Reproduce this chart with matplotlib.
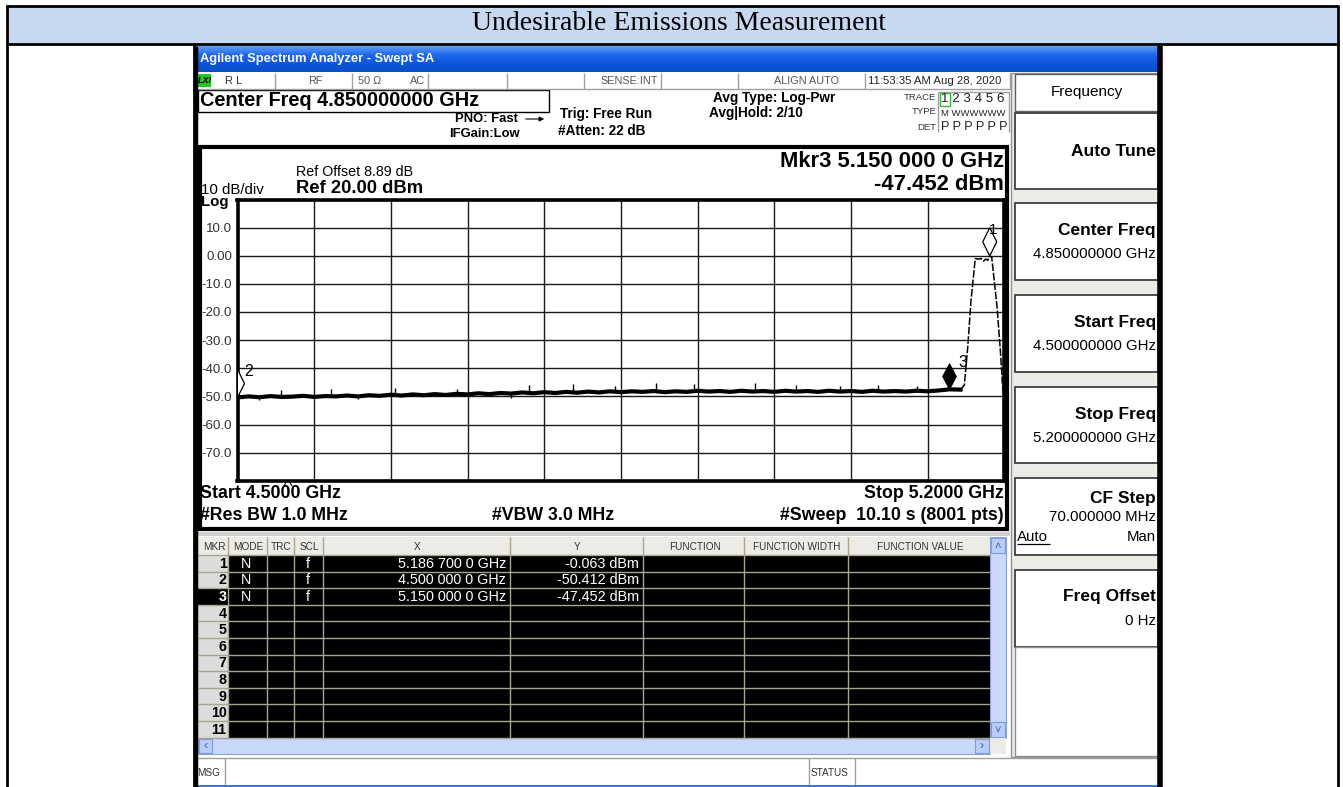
import numpy as np
import matplotlib.pyplot as plt
from matplotlib.patches import Rectangle, Polygon
from matplotlib.colors import LinearSegmentedColormap

W, H = 1343, 787
SANS = "Liberation Sans"
SERIF = "Liberation Serif"
plt.rcParams["font.family"] = SANS

# ---- values --------------------------------------------------------------
start_ghz, stop_ghz = 4.5, 5.2
ytick_vals = [-80, -70, -60, -50, -40, -30, -20, -10, 0, 10, 20]
ytick_text = ["", "-70.0", "-60.0", "-50.0", "-40.0", "-30.0", "-20.0",
              "-10.0", "0.00", "10.0", ""]

# noise floor (GHz, dBm), read every 10 MHz
floor_freq = [4.50, 4.51, 4.52, 4.53, 4.54, 4.55, 4.56, 4.57, 4.58, 4.59,
              4.60, 4.61, 4.62, 4.63, 4.64, 4.65, 4.66, 4.67, 4.68, 4.69,
              4.70, 4.71, 4.72, 4.73, 4.74, 4.75, 4.76, 4.77, 4.78, 4.79,
              4.80, 4.81, 4.82, 4.83, 4.84, 4.85, 4.86, 4.87, 4.88, 4.89,
              4.90, 4.91, 4.92, 4.93, 4.94, 4.95, 4.96, 4.97, 4.98, 4.99,
              5.00, 5.01, 5.02, 5.03, 5.04, 5.05, 5.06, 5.07, 5.08, 5.09,
              5.10, 5.11, 5.12, 5.13, 5.14, 5.15, 5.16]
floor_level = [-50.4, -50.0, -50.3, -49.9, -50.2, -50.1, -49.8, -50.2, -49.9, -50.0,
               -49.7, -50.0, -49.6, -49.8, -49.4, -49.7, -49.3, -49.6, -49.2, -49.5,
               -49.1, -49.3, -48.9, -49.2, -48.8, -49.0, -48.6, -48.9, -48.5, -48.8,
               -48.4, -48.7, -48.3, -48.6, -48.2, -48.5, -48.2, -48.4, -48.1, -48.5,
               -48.2, -48.4, -48.0, -48.3, -48.1, -48.4, -48.0, -48.3, -48.1, -48.4,
               -48.0, -48.3, -48.1, -48.4, -48.0, -48.3, -48.1, -48.4, -48.0, -48.3,
               -48.1, -48.3, -48.0, -48.2, -47.9, -47.5, -47.6]

# emission skirt and plateau
skirt_freq = [5.160, 5.1635, 5.1666, 5.1696, 5.1735, 5.1760, 5.1790, 5.1810,
              5.1830, 5.1850, 5.1867, 5.1885, 5.1934, 5.1964, 5.1985, 5.2000]
skirt_level = [-47.6, -46.0, -32.6, -15.9, -1.0, -1.2, -1.0, -1.9,
               -1.2, -1.6, -0.1, -0.5, -18.3, -33.7, -46.8, -51.5]

# isolated noise spikes
spike_freq = [4.520, 4.540, 4.585, 4.610, 4.644, 4.700, 4.750, 4.766, 4.806,
              4.845, 4.882, 4.917, 4.972, 5.010, 5.050, 5.085, 5.120]
spike_top = [-50.1, -47.8, -47.5, -49.8, -47.0, -47.2, -49.0, -45.8, -45.5,
             -46.3, -45.4, -45.5, -45.1, -46.0, -46.4, -45.9, -46.2]
spike_bot = [-51.3, -50.0, -49.8, -51.0, -49.6, -49.2, -50.4, -48.8, -48.6,
             -48.4, -48.3, -48.3, -48.3, -48.2, -48.3, -48.2, -48.1]

mkr_num = [1, 2, 3]
mkr_freq = [5.1867, 4.5000, 5.1500]
mkr_level = [-0.063, -50.412, -47.452]
mkr_mode = ["N", "N", "N"]
mkr_scl = ["f", "f", "f"]
active_mkr = 3
table_rows = 11

softkey_titles = ["Auto Tune", "Center Freq", "Start Freq", "Stop Freq",
                  "CF Step", "Freq Offset"]
softkey_values = ["", "4.850000000 GHz", "4.500000000 GHz", "5.200000000 GHz",
                  "70.000000 MHz", "0 Hz"]

# ---- canvas in pixel coordinates ------------------------------------------
fig = plt.figure(figsize=(W / 100, H / 100), dpi=100)
ov = fig.add_axes([0, 0, 1, 1])
ov.set_xlim(0, W); ov.set_ylim(H, 0); ov.axis("off")


def box(x0, y0, x1, y1, fc="none", ec="none", lw=1.0, z=1):
    ov.add_patch(Rectangle((x0, y0), x1 - x0, y1 - y0, fc=fc, ec=ec, lw=lw, zorder=z))


def line(xs, ys, c="black", lw=1.0, z=3):
    ov.plot(xs, ys, color=c, lw=lw, zorder=z, solid_capstyle="butt")


def txt(x, y, s, size, ha="left", weight="normal", color="black", family=SANS, z=5, **kw):
    ov.text(x, y, s, fontsize=size, ha=ha, va="center", fontweight=weight,
            color=color, family=family, zorder=z, **kw)


# document table
box(7, 6, 1337, 43, fc="#c6d9f1")
line([6, 1338], [5.5, 5.5], lw=2); line([6, 1338], [43.5, 43.5], lw=2)
line([6.5, 6.5], [5, H], lw=2); line([1337.5, 1337.5], [5, H], lw=2)
line([193.5, 193.5], [43, H], lw=2)
txt(679.5, 23, "Undesirable Emissions Measurement", 20, ha="center", family=SERIF)

# analyzer window
box(195, 46, 1161, H, fc="white")
tb = LinearSegmentedColormap.from_list("tb", ["#5f9ef8", "#2067ec", "#0c57dc", "#0a4ec8"])
ov.imshow(np.linspace(0, 1, 40).reshape(-1, 1), cmap=tb, extent=(195, 1161, 72, 46),
          aspect="auto", zorder=2)
ov.set_xlim(0, W); ov.set_ylim(H, 0)
txt(200, 59, "Agilent Spectrum Analyzer - Swept SA", 9.3, weight="bold", color="white")
line([1160, 1160], [46, H], lw=4, z=6)
line([195.5, 195.5], [46, H], lw=2.5, z=6)

# status row
line([196, 1010], [89, 89], c="#a0a0a0")
for xs in [275, 352, 428, 507, 584, 661, 738, 865, 1010]:
    line([xs, xs], [73, 89], c="#a0a0a0")
box(196.5, 74, 211, 87, fc="#26c626", z=4)
txt(198, 80.5, "LXI", 6.5, weight="bold", style="italic")
txt(225, 81, "R L", 8, color="#333333")
txt(315, 81, "RF", 7.8, ha="center", color="#555555")
txt(358, 81, "50 \u03a9", 7.8, color="#555555")
txt(410, 81, "AC", 7.8, color="#555555")
txt(658, 81, "SENSE:INT", 7.8, ha="right", color="#555555")
txt(806, 81, "ALIGN AUTO", 7.8, ha="center", color="#555555")
txt(868, 81, "11:53:35 AM Aug 28, 2020", 8.2, color="#222222")

# settings header
box(198, 90, 549, 112, ec="black", lw=1)
txt(200, 101, "Center Freq 4.850000000 GHz", 14.3, weight="bold")
txt(455, 119, "PNO: Fast", 9.4, weight="bold")
txt(449, 134, "IFGain:Low", 9.4, weight="bold")
ov.annotate("", xy=(547, 119), xytext=(523, 119),
            arrowprops=dict(arrowstyle="-|>", lw=0.8, color="black", mutation_scale=7))
txt(560, 114, "Trig: Free Run", 9.8, weight="bold")
txt(558, 131, "#Atten: 22 dB", 9.8, weight="bold")
txt(713, 98, "Avg Type: Log-Pwr", 9.8, weight="bold")
txt(709, 113, "Avg|Hold: 2/10", 9.8, weight="bold")
txt(936, 98, "TRACE", 6.8, ha="right", color="#333333")
txt(936, 112, "TYPE", 6.8, ha="right", color="#333333")
txt(936, 127, "DET", 6.8, ha="right", color="#333333")
line([938, 1009, 1009], [92, 92, 132], c="#a0a0a0")
line([938, 938], [92, 132], c="#a0a0a0")
box(939.5, 92.5, 950, 106, ec="#3cb43c", lw=1, z=4)
txt(941, 99.5, "1 2 3 4 5 6", 9.6, color="#222222")
txt(941, 113, "M WWWWWW", 6.8, color="#222222")
txt(941, 127, "P P P P P P", 9.2, color="#222222")

# plot frame
box(200, 147, 1006.5, 528.5, fc="white", ec="black", lw=3, z=2)
box(197, 532, 1010, 536, fc="#d0d0d0")
txt(296, 171.5, "Ref Offset 8.89 dB", 10.3)
txt(296, 188.5, "Ref 20.00 dBm", 13.2, weight="bold")
txt(201, 190.5, "10 dB/div", 10.8)
txt(201, 202, "Log", 10.8, weight="bold")
txt(1004, 161.5, "Mkr3 5.150 000 0 GHz", 15.8, ha="right", weight="bold")
txt(1004, 185, "-47.452 dBm", 15.8, ha="right", weight="bold")
txt(200, 494, "Start 4.5000 GHz", 12.8, weight="bold")
txt(1004, 494, "Stop 5.2000 GHz", 12.8, ha="right", weight="bold")
txt(200, 515, "#Res BW 1.0 MHz", 12.8, weight="bold")
txt(492, 515, "#VBW 3.0 MHz", 12.8, weight="bold")
txt(1004, 515, "#Sweep  10.10 s (8001 pts)", 12.8, ha="right", weight="bold")
line([284, 288, 292], [486, 479, 486], lw=0.8, z=7)

# marker table
col_x = [198, 228, 267, 294, 323, 510, 643, 744, 848, 990]
row_h = 16.6
body_top = 555
body_bot = body_top + table_rows * row_h
box(198, 537, 990, body_top, fc="#ecebe6")
box(198, body_top, 990, body_bot, fc="black")
box(198, body_top, 228, body_bot, fc="#dcdcdc")
box(198, body_top + (active_mkr - 1) * row_h, 228, body_top + active_mkr * row_h, fc="black", z=2)
for k in range(table_rows + 1):
    yy = body_top + k * row_h
    line([198, 990], [yy, yy], c="#a8a48e", lw=1, z=3)
for xx in col_x[1:-1]:
    line([xx, xx], [537, body_bot], c="#a8a48e", lw=1, z=3)
heads = ["MKR", "MODE", "TRC", "SCL", "X", "Y", "FUNCTION", "FUNCTION WIDTH", "FUNCTION VALUE"]
for i, hname in enumerate(heads):
    txt((col_x[i] + col_x[i + 1]) / 2 + 1, 546.5, hname, 7.2, ha="center", color="#333333")
for k in range(1, table_rows + 1):
    yc = body_top + (k - 0.5) * row_h + 0.5
    txt(226.5, yc, str(k), 10.3, ha="right", weight="bold",
        color="white" if k == active_mkr else "black")
for i, n in enumerate(mkr_num):
    yc = body_top + (n - 0.5) * row_h + 0.5
    fs = f"{mkr_freq[i]:.7f}"
    txt(246, yc, mkr_mode[i], 10.3, ha="center", color="white")
    txt(308, yc, mkr_scl[i], 10.3, ha="center", color="white")
    txt(506, yc, f"{fs[:5]} {fs[5:8]} {fs[8:]} GHz", 10.4, ha="right", color="white")
    txt(639, yc, f"{mkr_level[i]:.3f} dBm", 10.4, ha="right", color="white")

# scrollbars
box(990, 537, 1006, body_bot, fc="#c9d8fb", ec="#8aa4d8", lw=0.8)
box(991, 538, 1005, 553, fc="#b9cdfa", ec="#7f9ddb", lw=0.8, z=2)
box(991, body_bot - 16, 1005, body_bot - 1, fc="#b9cdfa", ec="#7f9ddb", lw=0.8, z=2)
txt(998, 546, "\u02c4", 8, ha="center", color="#4d6185")
txt(998, body_bot - 8, "\u02c5", 8, ha="center", color="#4d6185")
box(198, body_bot, 990, body_bot + 16, fc="#c9d8fb", ec="#8aa4d8", lw=0.8)
box(199, body_bot + 1, 212, body_bot + 15, fc="#b9cdfa", ec="#7f9ddb", lw=0.8, z=2)
box(975, body_bot + 1, 989, body_bot + 15, fc="#b9cdfa", ec="#7f9ddb", lw=0.8, z=2)
txt(205.5, body_bot + 8, "\u2039", 9, ha="center", color="#4d6185")
txt(982, body_bot + 8, "\u203a", 9, ha="center", color="#4d6185")
box(990, body_bot, 1006, body_bot + 16, fc="#ecebe6")

# status bar
line([196, 1159], [757.5, 757.5], c="#a0a0a0")
for xs in [225, 809, 855]:
    line([xs, xs], [758, 786], c="#a0a0a0")
txt(197, 773, "MSG", 7.2, color="#333333")
txt(811, 773, "STATUS", 7.2, color="#333333")
box(196, 785, 1159, H, fc="#3c78d8", z=4)

# softkey panel
box(1011, 73, 1159, 757, fc="#ecebe6", ec="#909090", lw=1)
box(1015, 74, 1158, 111, fc="white", ec="#606060", lw=1, z=2)
txt(1087, 92, "Frequency", 11, ha="center")
tops = [113, 203, 295, 387, 478, 570]
bots = [189, 280, 372, 463, 555, 647]
for title, val, t0, b0 in zip(softkey_titles, softkey_values, tops, bots):
    box(1015, t0, 1158, b0, fc="white", ec="#303030", lw=1.2, z=2)
    if not val:
        txt(1156, (t0 + b0) / 2, title, 12.5, ha="right", weight="bold")
    elif title == "CF Step":
        txt(1156, t0 + 20, title, 12.5, ha="right", weight="bold")
        txt(1156, t0 + 39, val, 10.8, ha="right")
        txt(1017, t0 + 59, "Auto", 10.8)
        line([1017, 1050], [t0 + 66, t0 + 66], lw=0.9)
        txt(1156, t0 + 59, "Man", 10.8, ha="right")
    else:
        txt(1156, t0 + 27, title, 12.5, ha="right", weight="bold")
        txt(1156, t0 + 51, val, 10.8, ha="right")
box(1015, 647, 1158, 756, fc="white", ec="#909090", lw=1, z=2)

# ---- spectrum graticule ---------------------------------------------------
gx0, gx1, gy0, gy1 = 237.5, 1004.3, 199.5, 480.75
ax = fig.add_axes([gx0 / W, 1 - gy1 / H, (gx1 - gx0) / W, (gy1 - gy0) / H])
ax.set_xlim(start_ghz, stop_ghz)
ax.set_ylim(-80, 20)
ax.set_xticks(np.linspace(start_ghz, stop_ghz, 11))
ax.set_xticklabels([])
ax.set_yticks(ytick_vals, ytick_text)
ax.tick_params(length=0, pad=4, labelsize=9.6, labelcolor="#333333")
ax.grid(True, color="#1a1a1a", lw=1.0)
for s in ax.spines.values():
    s.set_linewidth(2.6)
ax.set_axisbelow(True)

ax.plot(floor_freq, floor_level, color="black", lw=3.0, solid_joinstyle="miter")
ax.plot(skirt_freq, skirt_level, color="black", lw=1.1, ls=(0, (5, 1.2)))
ax.vlines(spike_freq, spike_bot, spike_top, color="black", lw=1.0)

hw = 7 * (stop_ghz - start_ghz) / (gx1 - gx0)
for n, f, lv in zip(mkr_num, mkr_freq, mkr_level):
    tall = 9.0 if n == active_mkr else 10.0
    w = hw * (0.95 if n == active_mkr else 1.0)
    poly = Polygon([(f, lv), (f + w, lv + tall / 2), (f, lv + tall), (f - w, lv + tall / 2)],
                   closed=True, fc="black" if n == active_mkr else "white",
                   ec="black", lw=0.9, zorder=5)
    ax.add_patch(poly)
ax.text(5.1897, 9.0, "1", fontsize=11, ha="center", va="center", zorder=6)
ax.text(4.5098, -41.3, "2", fontsize=11.5, ha="center", va="center", zorder=6)
ax.text(5.1624, -37.8, "3", fontsize=11.5, ha="center", va="center", zorder=6)

fig.savefig("out.png", dpi=100)
